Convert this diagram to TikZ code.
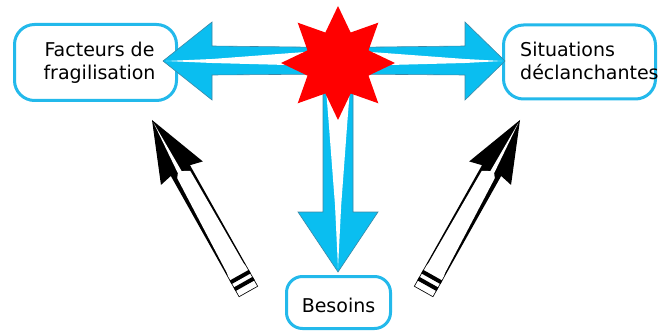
\documentclass[tikz,border=0pt]{standalone}
\usepackage{fontspec}
\setmainfont{DejaVu Sans}
\usetikzlibrary{calc}
\definecolor{boxcol}{RGB}{35,185,235}
\definecolor{arrcol}{RGB}{10,190,240}
\definecolor{arredge}{RGB}{60,135,165}
\definecolor{starred}{RGB}{255,0,0}
\newcommand{\drawBlackArrowShape}{%
  \fill[black] (0,0) -- (61,-24) -- (58,-11) -- (197,-11) -- (197,11) -- (58,11) -- (61,24) -- cycle;
  \fill[white] (3,0) -- (59,-3.5) -- (63,-6.5) -- (170,-9.6) -- (173,-10.2) -- (196.2,-10.2) -- (196.2,10.2) -- (173,10.2) -- (170,9.7) -- (63,8.4) -- (59,0.8) -- cycle;
  \fill[black] (178,-11) -- (182,-11) -- (182,11) -- (178,11) -- cycle;
  \fill[black] (186,-11) -- (190,-11) -- (190,11) -- (186,11) -- cycle;
}
\begin{document}
\begin{tikzpicture}[x=1pt,y=-1pt,
  box/.style={draw=boxcol, line width=3pt, rounded corners=20pt, fill=white, inner sep=0pt},
  lbl/.style={font=\fontsize{19}{23}\selectfont, inner sep=0pt, text=black},
  bluearrow/.style={fill=arrcol, draw=arredge, line width=0.6pt, line join=miter},
  shine/.style={fill=white, draw=none}]
\useasboundingbox (0,0) rectangle (660,331);

% boxes
\node[box, minimum width=162pt, minimum height=76pt] (fbox) at (95.5,62.5) {};
\node[lbl, align=center] (ftext) at (99.5,63.2) {Facteurs de\\fragilisation};
\node[box, minimum width=152pt, minimum height=74pt] (sbox) at (579.5,62) {};
\node[lbl, align=left, anchor=west] (stext) at (520,61.1) {Situations\\déclanchantes};
\node[box, minimum width=104pt, minimum height=52pt, rounded corners=16pt] (bbox) at (338.5,302.5) {};
\node[lbl, anchor=base] (btext) at (338.5,312) {Besoins};

% centre
\coordinate (c) at (338,63);
\coordinate (ltip) at (163,61);
\coordinate (rtip) at (505,61);
\coordinate (btip) at (338,272);

% vertical blue arrow
\draw[bluearrow] (323,62) -- (323,212) -- (298,212) -- (btip) -- (378,212) -- (353,212) -- (353,62) -- cycle;
\fill[shine] (338,268) -- (341.2,205) -- (347.5,120) -- (351.5,70) -- (324.5,70) -- (328.5,120) -- (335,205) -- cycle;

% horizontal double blue arrow
\draw[bluearrow] (ltip) -- (212,22) -- (212,46) -- (338,47.5) -- (465,46) -- (465,22) -- (rtip)
  -- (465,100) -- (465,75) -- (338,74) -- (212,75) -- (212,100) -- cycle;
\fill[shine] (166,61) -- (212,59) -- (305,52) -- (338,50.5) -- (338,68.5) -- (305,65.5) -- (212,63) -- cycle;
\fill[shine] (502,61) -- (465,59) -- (371,52) -- (338,50.5) -- (338,68.5) -- (371,65.5) -- (465,63) -- cycle;

% star
\begin{scope}[shift={(c)}]
\fill[starred] (0:57) -- (22.5:33) -- (45:57) -- (67.5:33) -- (90:57) -- (112.5:33)
  -- (135:57) -- (157.5:33) -- (180:57) -- (202.5:33) -- (225:57) -- (247.5:33)
  -- (270:57) -- (292.5:33) -- (315:57) -- (337.5:33) -- cycle;
\end{scope}

% black arrows
\begin{scope}[shift={(152,120)}, x={(0.49pt,-0.872pt)}, y={(0.872pt,0.49pt)}]
\drawBlackArrowShape
\end{scope}
\begin{scope}[shift={(520,120)}, x={(-0.49pt,-0.872pt)}, y={(-0.872pt,0.49pt)}]
\drawBlackArrowShape
\end{scope}
\end{tikzpicture}
\end{document}
